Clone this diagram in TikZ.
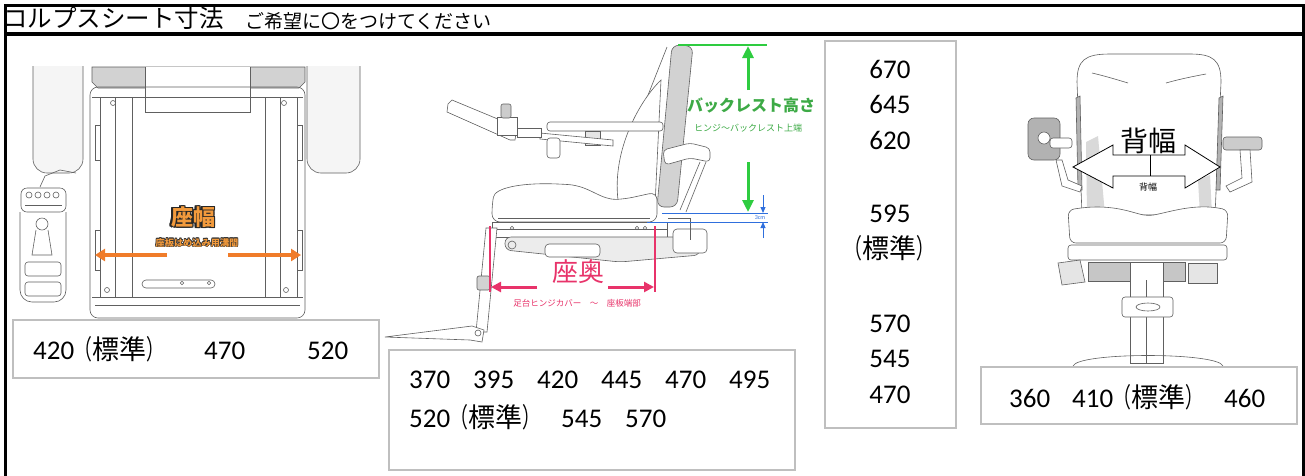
\documentclass[tikz,border=0pt]{standalone}
\usepackage{fontspec}
\setmainfont{Carlito}
\newfontfamily\jp{Noto Sans CJK JP}
\newfontfamily\jpf{Noto Sans CJK JP}
\usetikzlibrary{arrows.meta}
\definecolor{boxgray}{HTML}{BFBFBF}
\definecolor{orng}{HTML}{F07C2A}
\definecolor{orngtxt}{HTML}{F29A3C}
\definecolor{grn}{HTML}{2ECC40}
\definecolor{grntxt}{HTML}{3DAA46}
\definecolor{blu}{HTML}{2F6FDD}
\definecolor{pnk}{HTML}{E8336A}
\definecolor{sketchc}{HTML}{606060}
\newcommand\olt[4]{%
 \leavevmode
 \rlap{\textcolor{#2}{\kern#1\relax#4}}%
 \rlap{\textcolor{#2}{\kern-#1\relax#4}}%
 \rlap{\textcolor{#2}{\raisebox{#1}{#4}}}%
 \rlap{\textcolor{#2}{\raisebox{-#1}{#4}}}%
 \rlap{\textcolor{#2}{\kern#1\raisebox{#1}{#4}}}%
 \rlap{\textcolor{#2}{\kern-#1\raisebox{#1}{#4}}}%
 \rlap{\textcolor{#2}{\kern#1\raisebox{-#1}{#4}}}%
 \rlap{\textcolor{#2}{\kern-#1\raisebox{-#1}{#4}}}%
 \textcolor{#3}{#4}}
\newcommand\stdtxt{{\jp\scalebox{0.66}[1]{（}標準\scalebox{0.66}[1]{）}}}
\tikzset{
 frameline/.style={line width=3.5pt, black},
 optbox/.style={draw=boxgray, line width=1.8pt, fill=white, inner sep=0pt},
 num/.style={inner sep=0pt, anchor=base west, font=\fontsize{27}{32}\selectfont},
 numc/.style={num, anchor=base},
 sk/.style={draw=sketchc, line width=0.6pt},
 skfill/.style={sk, fill=gray!35},
 skdark/.style={sk, fill=gray!60},
 orarrow/.style={orng, line width=4pt, -{Triangle[width=12pt,length=10pt]}},
 grarrow/.style={grn, line width=3pt, -{Triangle[width=11pt,length=12pt]}},
 blarrow/.style={blu, line width=1pt, -{Triangle[width=5pt,length=6pt]}},
 pkarrow/.style={pnk, line width=3pt, -{Triangle[width=10pt,length=10pt]}},
}
\begin{document}
\begin{tikzpicture}[x=1pt,y=-1pt]
\useasboundingbox (0,0) rectangle (1305,475);
\fill[white] (0,0) rectangle (1305,475);

% ---------- left sketch: seat from above ----------
\draw[sk, fill=gray!8, rounded corners=14] (33,66) -- (33,173) -- (83,173) -- (83,66);
\draw[sk, fill=gray!8, rounded corners=14] (307,66) -- (307,173) -- (360,173) -- (360,66);
\draw[skfill] (92,67) -- (92,82) -- (98,88) -- (299,88) -- (305,82) -- (305,67) -- cycle;
\draw[sk, fill=white] (145,67) -- (145,112) -- (250,112) -- (250,67);
\draw[sk, rounded corners=8] (90,87) rectangle (305,318);
\foreach \xx in {100,115,132,265,280,297}{\draw[sk] (\xx,97) -- (\xx,297);}
\draw[sk] (92,97) -- (303,97);
\draw[sk] (92,297) -- (303,297);
\draw[sk] (95,305) -- (300,305);
\draw[sk] (95,125) rectangle (100,160);
\draw[sk] (95,230) rectangle (100,270);
\draw[sk] (297,125) rectangle (302,160);
\draw[sk] (297,230) rectangle (302,270);
\foreach \xx/\yy in {113/103,284/103,107/290,286/290}{\draw[sk] (\xx,\yy) circle (2.5);}
\draw[sk, rounded corners=4] (142,280) rectangle (215,288);
\draw[sk] (182,283) circle (1.8);
\draw[sk] (209,283) circle (1.8);
% joystick controller
\draw[sk, rounded corners=6] (21,188) rectangle (66,212);
\foreach \xx in {29,38,47,56}{\draw[sk] (\xx,195) circle (3);}
\draw[sk] (25,205) -- (62,205);
\draw[sk, rounded corners=12] (20,212) -- (20,302) -- (66,302) -- (66,212);
\draw[sk] (42,224) circle (6);
\draw[sk] (36,230) -- (32,255) -- (52,255) -- (48,230);
\draw[sk, rounded corners=3] (25,262) rectangle (61,276);
\draw[sk, rounded corners=3] (25,282) rectangle (61,296);
\draw[sk] (40,187) -- (45,176) -- (60,170) -- (76,173);

% ---------- middle sketch: side view ----------
\draw[sk] (667,47) -- (637,123);
\draw[skfill, rounded corners=7] (672,45) -- (693,46) -- (677,207) -- (657,207) -- cycle;
\draw[sk, fill=white] (661,80) .. controls (640,100) and (612,150) .. (618,200) -- (655,205) -- cycle;
\draw[sk, fill=white, rounded corners=8] (492,222) -- (492,205) .. controls (495,188) and (520,183) .. (560,184)
  .. controls (590,186) and (600,200) .. (625,199) -- (657,192) -- (657,222) -- cycle;
\draw[sk] (498,218) -- (650,218);
\draw[sk, fill=white] (492,222) rectangle (667,237);
\draw[sk] (492,229) -- (667,229);
\foreach \xx in {512,637,645}{\draw[sk] (\xx,228) circle (1.8);}
\draw[sk, fill=gray!15, rounded corners=6] (505,237) -- (700,237) -- (700,255) -- (620,262) -- (505,250) -- cycle;
\draw[sk, fill=white, rounded corners=4] (545,244) rectangle (600,257);
\draw[sk, fill=white, rounded corners=4] (673,229) rectangle (707,253);
\draw[sk] (668,218) -- (690,218) -- (690,240);
\draw[sk] (512,245) circle (4);
% leg rest
\draw[sk, fill=white] (486,228) -- (497,228) -- (487,332) -- (476,332) -- cycle;
\draw[skfill, rounded corners=2] (477,276) rectangle (490,290);
\draw[sk, fill=white] (385,337) -- (472,326) -- (484,330) -- (482,342) -- (470,340) -- cycle;
\draw[sk] (478,333) circle (3);
% armrest and arm
\draw[sk, fill=white, rounded corners=3] (547,122) rectangle (663,131);
\draw[sk, fill=gray!20] (585,131) rectangle (600,145);
\draw[sk, fill=white] (540,133) -- (613,140) -- (613,146) -- (540,139) -- cycle;
\draw[sk, fill=white] (448,104) -- (452,100) -- (517,127) -- (515,140) -- (510,140) -- (447,112) -- cycle;
\draw[sk, fill=white] (497,117) rectangle (517,135);
\draw[sk, fill=gray!40, rounded corners=2] (501,104) rectangle (511,118);
\draw[sk, fill=white] (517,128) rectangle (541,137);
\draw[sk, fill=white, rounded corners=3] (547,138) rectangle (560,158);
\draw[sk, fill=white, rounded corners=4] (663,150) -- (690,143) -- (710,148) -- (710,162) -- (690,158) -- (665,165) -- cycle;
\draw[sk] (700,162) -- (680,210);
\draw[sk] (706,162) -- (686,212);

% ---------- right sketch: front view ----------
\draw[sk, fill=white] (1082,215) -- (1077,82) .. controls (1077,60) and (1085,54) .. (1110,54) -- (1190,54)
  .. controls (1213,54) and (1221,60) .. (1221,82) -- (1215,215) -- cycle;
\draw[skdark] (1076,98) -- (1080,96) -- (1082,190) -- (1078,190) -- cycle;
\draw[skdark] (1219,98) -- (1223,96) -- (1220,190) -- (1216,190) -- cycle;
\fill[gray!30] (1086,142) -- (1098,136) -- (1105,215) -- (1087,215) -- cycle;
\fill[gray!30] (1198,180) -- (1210,175) -- (1212,215) -- (1200,215) -- cycle;
\draw[sk] (1092,73) .. controls (1105,76) and (1118,80) .. (1128,83);
\draw[sk] (1166,83) .. controls (1180,79) and (1195,76) .. (1206,74);
\draw[sk, fill=white, rounded corners=6] (1068,210) .. controls (1110,203) and (1130,212) .. (1148,216)
  .. controls (1170,212) and (1195,203) .. (1228,210) -- (1226,243) -- (1070,243) -- cycle;
\draw[sk, fill=white, rounded corners=3] (1068,245) rectangle (1227,260);
\draw[sk, fill=gray!20] (1058,263) -- (1080,260) -- (1085,282) -- (1062,285) -- cycle;
\draw[sk, fill=gray!20] (1188,263) rectangle (1217,283);
\draw[sk, fill=gray!45] (1088,262) rectangle (1185,281);
\draw[sk, fill=white] (1130,262) rectangle (1163,363);
\draw[sk] (1146,280) -- (1146,363);
\draw[sk, fill=white, rounded corners=3] (1122,297) rectangle (1173,317);
\draw[sk] (1148,307) ellipse (12 and 4);
\draw[sk] (1073,366) .. controls (1078,352) and (1218,352) .. (1223,366);
% armrest controllers
\draw[skdark, rounded corners=6] (1028,118) rectangle (1060,160);
\draw[sk, fill=white] (1044,138) circle (6);
\draw[sk, fill=white, rounded corners=3] (1050,138) rectangle (1072,148);
\draw[sk, fill=white] (1056,160) -- (1062,160) -- (1068,180) -- (1082,186) -- (1080,192) -- (1062,186) -- cycle;
\draw[sk, fill=gray!40, rounded corners=3] (1223,137) rectangle (1262,150);
\draw[sk, fill=white] (1240,150) -- (1250,150) -- (1252,182) -- (1230,192) -- (1226,186) -- (1242,178) -- cycle;

% ---------- frame ----------
\draw[frameline] (5.5,476) -- (5.5,5.5) -- (1303.5,5.5) -- (1303.5,476);
\draw[frameline] (5.5,34) -- (1303.5,34);
\node[inner sep=0, anchor=base west, font=\jpf\fontsize{24.5}{28}\selectfont] (title) at (3,27) {コルプスシート寸法};
\node[inner sep=0, anchor=base west, font=\jpf\fontsize{19}{22}\selectfont] (subtitle) at (245,28) {ご希望に〇をつけてください};

% ---------- left annotations ----------
\node[inner sep=0, font=\jpf\bfseries\fontsize{22}{24}\selectfont] (zahaba) at (193,217) {\olt{1.3pt}{black!85}{orngtxt}{座幅}};
\node[inner sep=0, font=\jpf\bfseries\fontsize{9.2}{10}\selectfont] (zahabasub) at (197,243) {\olt{0.5pt}{black!80}{orngtxt}{座板はめ込み用溝間}};
\coordinate (oaL1) at (167,255);
\coordinate (oaL2) at (95,255);
\coordinate (oaR1) at (228,255);
\coordinate (oaR2) at (301,255);
\draw[orarrow] (oaL1) -- (oaL2);
\draw[orarrow] (oaR1) -- (oaR2);

% ---------- middle annotations ----------
\coordinate (gtop1) at (678,45);
\coordinate (gtop2) at (767,45);
\draw[grn, line width=1.5pt] (gtop1) -- (gtop2);
\coordinate (gu1) at (748,90);
\coordinate (gu2) at (748,46);
\coordinate (gd1) at (748,162);
\coordinate (gd2) at (748,212);
\draw[grarrow] (gu1) -- (gu2);
\draw[grarrow] (gd1) -- (gd2);
\node[inner sep=0, font=\jp\bfseries\fontsize{16}{18}\selectfont, text=grntxt] (brh) at (751,105) {バックレスト高さ};
\node[inner sep=0, font=\jp\fontsize{9}{10}\selectfont, text=grntxt] (brhsub) at (748,128) {ヒンジ～バックレスト上端};
\coordinate (bl1a) at (662,213);
\coordinate (bl1b) at (768,213);
\coordinate (bl2a) at (647,222);
\coordinate (bl2b) at (768,222);
\draw[blu, line width=1pt] (bl1a) -- (bl1b);
\draw[blu, line width=1pt] (bl2a) -- (bl2b);
\coordinate (ba1) at (763,195);
\coordinate (ba2) at (763,213);
\coordinate (bb1) at (763,238);
\coordinate (bb2) at (763,222);
\draw[blarrow] (ba1) -- (ba2);
\draw[blarrow] (bb1) -- (bb2);
\node[inner sep=0, font=\fontsize{6}{6}\selectfont, text=blu] (tcm) at (760,217.5) {3cm};
\coordinate (pl1a) at (490,226);
\coordinate (pl1b) at (490,292);
\coordinate (pl2a) at (655,226);
\coordinate (pl2b) at (655,292);
\draw[pnk, line width=1.2pt] (pl1a) -- (pl1b);
\draw[pnk, line width=1.2pt] (pl2a) -- (pl2b);
\node[inner sep=0, font=\jpf\fontsize{26}{28}\selectfont, text=pnk] (zaoku) at (578,272) {座奥};
\coordinate (pa1) at (537,287);
\coordinate (pa2) at (491,287);
\coordinate (pb1) at (608,287);
\coordinate (pb2) at (654,287);
\draw[pkarrow] (pa1) -- (pa2);
\draw[pkarrow] (pb1) -- (pb2);
\node[inner sep=0, font=\jpf\fontsize{8.5}{10}\selectfont, text=pnk] (zaokusub) at (577,303) {足台ヒンジカバー\quad～\quad 座板端部};

% ---------- right annotations ----------
\draw[black, line width=0.8pt, fill=white] (1073,167) -- (1113,145) -- (1113,155) -- (1185,155) -- (1185,145)
  -- (1220,167) -- (1185,188) -- (1185,176) -- (1113,176) -- (1113,188) -- cycle;
\coordinate (cl1) at (1150,155);
\coordinate (cl2) at (1150,176);
\draw[black, line width=0.8pt] (cl1) -- (cl2);
\node[inner sep=0, font=\jpf\fontsize{28}{30}\selectfont] (sehaba) at (1148,141) {背幅};
\node[inner sep=0, font=\jpf\fontsize{9}{10}\selectfont] (sehabasub) at (1148,187) {背幅};

% ---------- option boxes ----------
\node[optbox, minimum width=366pt, minimum height=58pt] (boxL) at (196,349) {};
\node[num] (l1) at (33,359) {420\stdtxt};
\node[num] (l2) at (204,359) {470};
\node[num] (l3) at (307,359) {520};

\node[optbox, minimum width=406pt, minimum height=120pt] (boxM) at (592,410) {};
\node[num] (m1) at (409,388) {370};
\node[num] (m2) at (473,388) {395};
\node[num] (m3) at (537,388) {420};
\node[num] (m4) at (601,388) {445};
\node[num] (m5) at (665,388) {470};
\node[num] (m6) at (729,388) {495};
\node[num] (m7) at (409,427) {520\stdtxt};
\node[num] (m8) at (561,427) {545};
\node[num] (m9) at (625,427) {570};

\node[optbox, minimum width=131pt, minimum height=387pt] (boxV) at (890.5,234.5) {};
\node[numc] (v1) at (890,78) {670};
\node[numc] (v2) at (890,113) {645};
\node[numc] (v3) at (890,149) {620};
\node[numc] (v4) at (890,222) {595};
\node[numc] (v5) at (889,258) {\stdtxt};
\node[numc] (v6) at (890,332) {570};
\node[numc] (v7) at (890,367) {545};
\node[numc] (v8) at (890,403) {470};

\node[optbox, minimum width=316pt, minimum height=57pt] (boxR) at (1139,395.5) {};
\node[num] (r1) at (1009,407) {360};
\node[num] (r2) at (1072,407) {410\stdtxt};
\node[num] (r3) at (1224,407) {460};
\end{tikzpicture}
\end{document}
